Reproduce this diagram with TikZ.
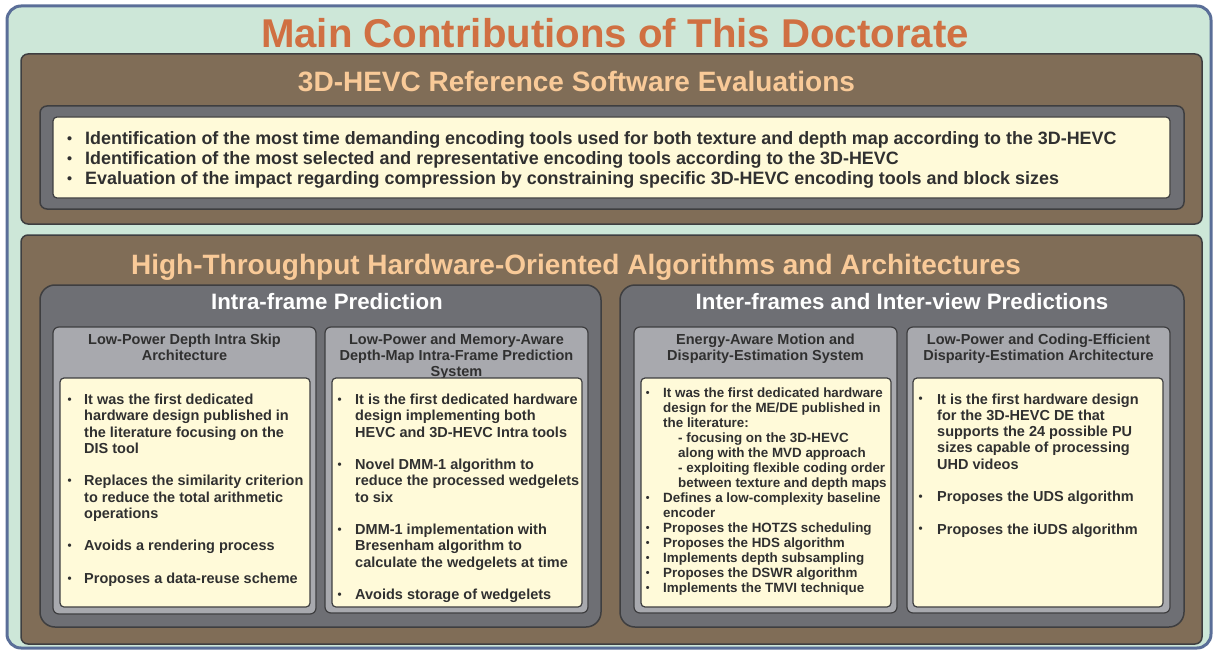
\documentclass[tikz,border=0pt]{standalone}
\usepackage{fontspec}
\setmainfont{Liberation Sans}
\usepackage{array}
\usepackage{graphicx}
\definecolor{mint}{RGB}{205,231,216}
\definecolor{frameblue}{RGB}{90,110,152}
\definecolor{umber}{RGB}{128,109,87}
\definecolor{slate}{RGB}{110,111,116}
\definecolor{silver}{RGB}{168,169,174}
\definecolor{cream}{RGB}{255,250,217}
\definecolor{edge}{RGB}{62,62,64}
\definecolor{rust}{RGB}{208,112,66}
\definecolor{peach}{RGB}{249,202,152}
\definecolor{ink}{RGB}{48,48,48}
\newlength\bgap
% a slightly reduced bullet, kept at the height of the lower-case letters
\newcommand{\smallbullet}{\raisebox{0.07em}{\scalebox{0.8}{\textbullet}}}
% list rows: bulleted first line, continuation line, empty spacer line
\newcommand{\li}[1]{\makebox[\bgap][l]{\smallbullet}&#1\\}
\newcommand{\lc}[1]{&#1\\}
\newcommand{\lgap}{&\\}
\begin{document}
\begin{tikzpicture}[x=1pt,y=-1pt,
  outerbox/.style={fill=mint,draw=frameblue,line width=3pt,rounded corners=14pt},
  panel/.style={fill=umber,draw=edge,line width=1.5pt,rounded corners=7pt},
  well/.style={fill=slate,draw=edge,line width=1.5pt,rounded corners=7pt},
  group/.style={fill=slate,draw=edge,line width=1.5pt,rounded corners=15pt},
  card/.style={fill=silver,draw=edge,line width=1.2pt,rounded corners=6pt},
  note/.style={fill=cream,draw=edge,line width=1.2pt,rounded corners=4pt},
  maintitle/.style={inner sep=0,anchor=base,text=rust,font=\bfseries\fontsize{40.2}{44}\selectfont},
  paneltitle/.style={inner sep=0,anchor=base,text=peach,font=\bfseries\fontsize{28}{32}\selectfont},
  grouptitle/.style={inner sep=0,anchor=base,text=white,font=\bfseries\fontsize{22.3}{26}\selectfont},
  cardtitle/.style={inner sep=0,anchor=base,text=ink,font=\bfseries\fontsize{14.5}{16}\selectfont},
  toplist/.style={inner sep=0,anchor=base west,text=ink,font=\bfseries\fontsize{17.9}{20}\selectfont},
  list/.style={inner sep=0,anchor=base west,text=ink,font=\bfseries\fontsize{14.5}{16.25}\selectfont},
  denselist/.style={inner sep=0,anchor=base west,text=ink,font=\bfseries\fontsize{13.4}{15}\selectfont}]
\useasboundingbox (0,0) rectangle (1213,650);

% outer frame and heading
\path[outerbox] (7,6) rectangle (1211,648);
\node[maintitle] (main) at (615,48) {Main Contributions of This Doctorate};

% reference software evaluations
\path[panel] (21,54) rectangle (1202,224);
\node[paneltitle] (evaltitle) at (576.5,92) {3D-HEVC Reference Software Evaluations};
\path[well] (40,106) rectangle (1184,209);
\path[note] (53,117) rectangle (1170,198);
\node[toplist] (evallist) at (67,145) {\setlength\bgap{18pt}%
\begin{tabular}[t]{@{}l@{}l@{}}
\li{Identification of the most time demanding encoding tools used for both texture and depth map according to the 3D-HEVC}
\li{Identification of the most selected and representative encoding tools according to the 3D-HEVC}
\li{Evaluation of the impact regarding compression by constraining specific 3D-HEVC encoding tools and block sizes}
\end{tabular}};

% hardware algorithms and architectures
\path[panel] (21,235) rectangle (1202,644);
\node[paneltitle] (hwtitle) at (576,274) {High-Throughput Hardware-Oriented Algorithms and Architectures};

% intra-frame group
\path[group] (40,285) rectangle (601,627);
\node[grouptitle] (intratitle) at (327,309) {Intra-frame Prediction};

\path[card] (53,327) rectangle (316,614);
\node[cardtitle] (dishead) at (184.5,344) {\begin{tabular}[t]{@{}c@{}}Low-Power Depth Intra Skip\\Architecture\end{tabular}};
\path[note] (60,378) rectangle (310,607);
\node[list] (dislist) at (67.5,404.5) {\setlength\bgap{16.5pt}%
\begin{tabular}[t]{@{}l@{}l@{}}
\li{It was the first dedicated}
\lc{hardware design published in}
\lc{the literature focusing on the}
\lc{DIS tool}
\lgap
\li{Replaces the similarity criterion}
\lc{to reduce the total arithmetic}
\lc{operations}
\lgap
\li{Avoids a rendering process}
\lgap
\li{Proposes a data-reuse scheme}
\end{tabular}};

\path[card] (325,327) rectangle (588,613);
\node[cardtitle] (dmmhead) at (456.5,344) {\begin{tabular}[t]{@{}c@{}}Low-Power and Memory-Aware\\Depth-Map Intra-Frame Prediction\\System\end{tabular}};
\path[note] (332,378) rectangle (582,607);
\node[list] (dmmlist) at (337.5,404.5) {\setlength\bgap{17.5pt}%
\begin{tabular}[t]{@{}l@{}l@{}}
\li{It is the first dedicated hardware}
\lc{design implementing both}
\lc{HEVC and 3D-HEVC Intra tools}
\lgap
\li{Novel DMM-1 algorithm to}
\lc{reduce the processed wedgelets}
\lc{to six}
\lgap
\li{DMM-1 implementation with}
\lc{Bresenham algorithm to}
\lc{calculate the wedgelets at time}
\lgap
\li{Avoids storage of wedgelets}
\end{tabular}};

% inter-frame and inter-view group
\path[group] (620,285) rectangle (1184,627);
\node[grouptitle] (intertitle) at (902,309) {Inter-frames and Inter-view Predictions};

\path[card] (634,327) rectangle (897,613);
\node[cardtitle] (mehead) at (765.5,344) {\begin{tabular}[t]{@{}c@{}}Energy-Aware Motion and\\Disparity-Estimation System\end{tabular}};
\path[note] (641,378) rectangle (891,607);
\node[denselist] (melist) at (645.7,397) {\setlength\bgap{17.3pt}%
\begin{tabular}[t]{@{}l@{}l@{}}
\li{It was the first dedicated hardware}
\lc{design for the ME/DE published in}
\lc{the literature:}
\lc{\hspace{15pt}- focusing on the 3D-HEVC}
\lc{\hspace{15pt}along with the MVD approach}
\lc{\hspace{15pt}- exploiting flexible coding order}
\lc{\hspace{15pt}between texture and depth maps}
\li{Defines a low-complexity baseline}
\lc{encoder}
\li{Proposes the HOTZS scheduling}
\li{Proposes the HDS algorithm}
\li{Implements depth subsampling}
\li{Proposes the DSWR algorithm}
\li{Implements the TMVI technique}
\end{tabular}};

\path[card] (907,327) rectangle (1170,613);
\node[cardtitle] (dehead) at (1038.5,344) {\begin{tabular}[t]{@{}c@{}}Low-Power and Coding-Efficient\\Disparity-Estimation Architecture\end{tabular}};
\path[note] (913,378) rectangle (1163,607);
\node[list] (delist) at (918.5,404) {\setlength\bgap{18.5pt}%
\begin{tabular}[t]{@{}l@{}l@{}}
\li{It is the first hardware design}
\lc{for the 3D-HEVC DE that}
\lc{supports the 24 possible PU}
\lc{sizes capable of processing}
\lc{UHD videos}
\lgap
\li{Proposes the UDS algorithm}
\lgap
\li{Proposes the iUDS algorithm}
\end{tabular}};
\end{tikzpicture}
\end{document}
